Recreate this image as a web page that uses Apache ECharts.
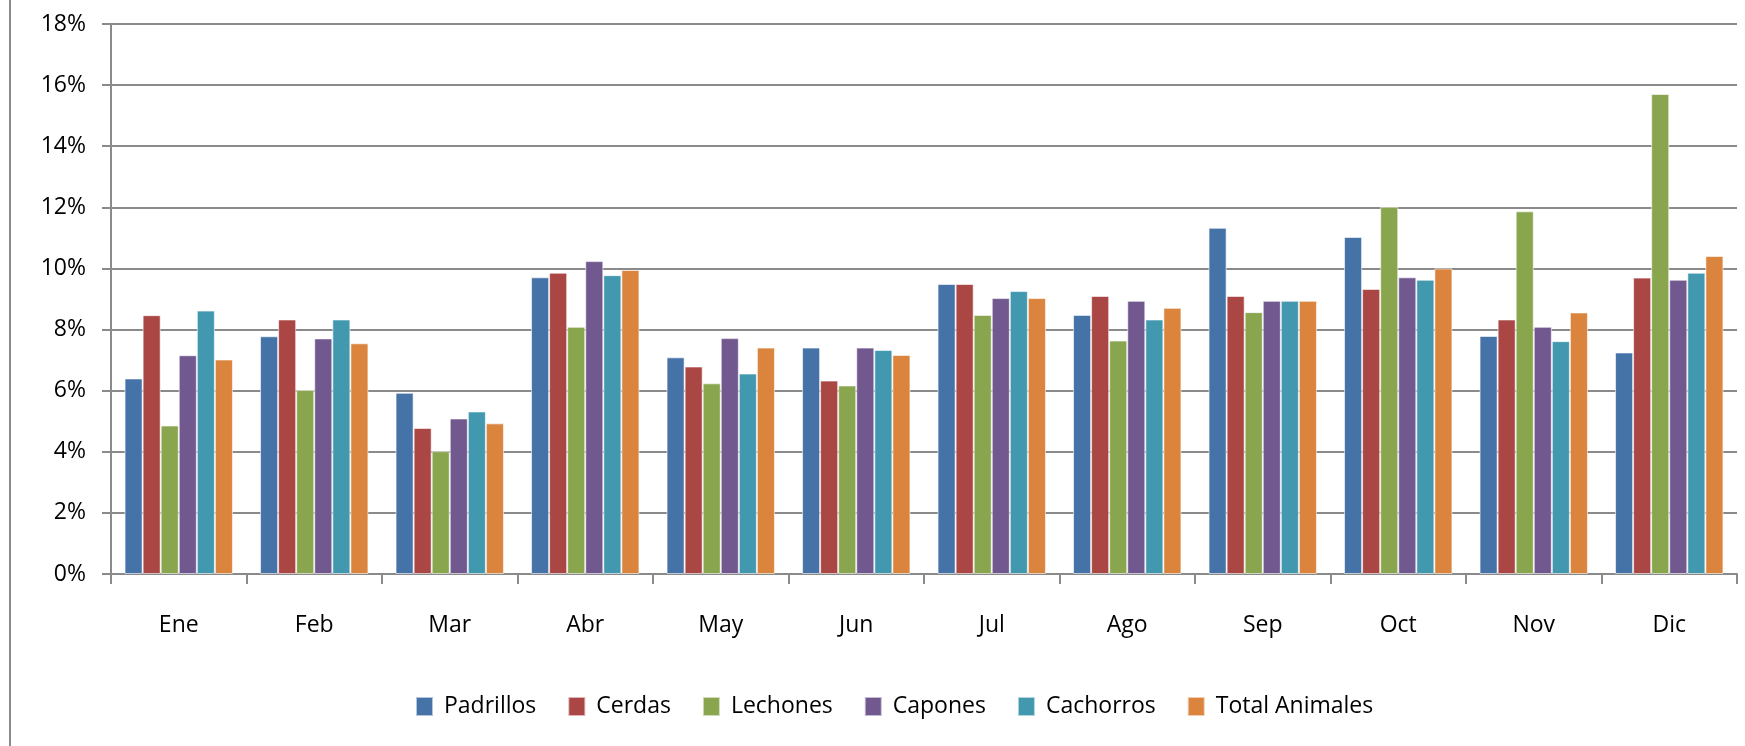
<!DOCTYPE html>
<html>
<head>
<meta charset="utf-8">
<script src="https://cdn.jsdelivr.net/npm/echarts@6/dist/echarts.min.js"></script>
<style>
  html, body { margin: 0; padding: 0; background: #fff; }
  #chart { width: 1745px; height: 746px; }
</style>
</head>
<body>
<div id="chart"></div>
<script>
// meses
const months = ['Ene', 'Feb', 'Mar', 'Abr', 'May', 'Jun', 'Jul', 'Ago', 'Sep', 'Oct', 'Nov', 'Dic'];
// valores en %
const padrillos = [6.40, 7.78, 5.93, 9.71, 7.09, 7.41, 9.49, 8.48, 11.33, 11.03, 7.79, 7.25];
const cerdas = [8.47, 8.33, 4.78, 9.86, 6.79, 6.33, 9.49, 9.10, 9.10, 9.33, 8.33, 9.70];
const lechones = [4.86, 6.02, 4.02, 8.09, 6.24, 6.17, 8.48, 7.64, 8.57, 12.02, 11.87, 15.71];
const capones = [7.16, 7.71, 5.09, 10.24, 7.72, 7.41, 9.03, 8.94, 8.94, 9.71, 8.09, 9.63];
const cachorros = [8.62, 8.33, 5.32, 9.78, 6.56, 7.33, 9.26, 8.33, 8.94, 9.63, 7.62, 9.86];
const total = [7.02, 7.55, 4.93, 9.95, 7.41, 7.17, 9.03, 8.71, 8.94, 10.00, 8.56, 10.41];

const seriesNames = ['Padrillos', 'Cerdas', 'Lechones', 'Capones', 'Cachorros', 'Total Animales'];
const seriesData = [padrillos, cerdas, lechones, capones, cachorros, total];
const colors = ['#4572A7', '#AA4643', '#89A54E', '#71588F', '#4198AF', '#DB843D'];

const font = "'Open Sans', sans-serif";
const gray = '#8a8a8a';

let mychart = echarts.init(document.getElementById('chart'));
mychart.setOption({
  animation: false,
  color: colors,
  textStyle: { fontFamily: font },
  grid: {
    left: 111,
    right: 8,
    top: 24,
    bottom: 172
  },
  legend: {
    data: seriesNames,
    bottom: 23,
    left: 410,
    itemWidth: 17,
    itemHeight: 19,
    itemGap: 31,
    icon: 'rect',
    textStyle: { fontSize: 23, color: '#000', fontFamily: font, padding: [0, 0, 0, 6] }
  },
  xAxis: {
    type: 'category',
    data: months,
    axisLine: { lineStyle: { color: gray, width: 2 } },
    axisTick: { show: true, length: 10, lineStyle: { color: gray, width: 2 } },
    axisLabel: { margin: 40, fontSize: 23, color: '#000' }
  },
  yAxis: {
    type: 'value',
    min: 0,
    max: 18,
    interval: 2,
    axisLine: { show: true, lineStyle: { color: gray, width: 2 } },
    axisTick: { show: true, length: 9, lineStyle: { color: gray, width: 2 } },
    axisLabel: { margin: 25, fontSize: 23, color: '#000', formatter: '{value}%' },
    splitLine: { lineStyle: { color: gray, width: 2 } }
  },
  graphic: [{
    type: 'line',
    shape: { x1: 10, y1: 0, x2: 10, y2: 746 },
    style: { stroke: gray, lineWidth: 2 }
  }],
  series: seriesNames.map((name, i) => ({
    name: name,
    type: 'bar',
    data: seriesData[i],
    barGap: '0%',
    barCategoryGap: '20%',
    itemStyle: { borderColor: 'rgba(255,255,255,0.6)', borderWidth: 1 }
  }))
});
</script>
</body>
</html>
